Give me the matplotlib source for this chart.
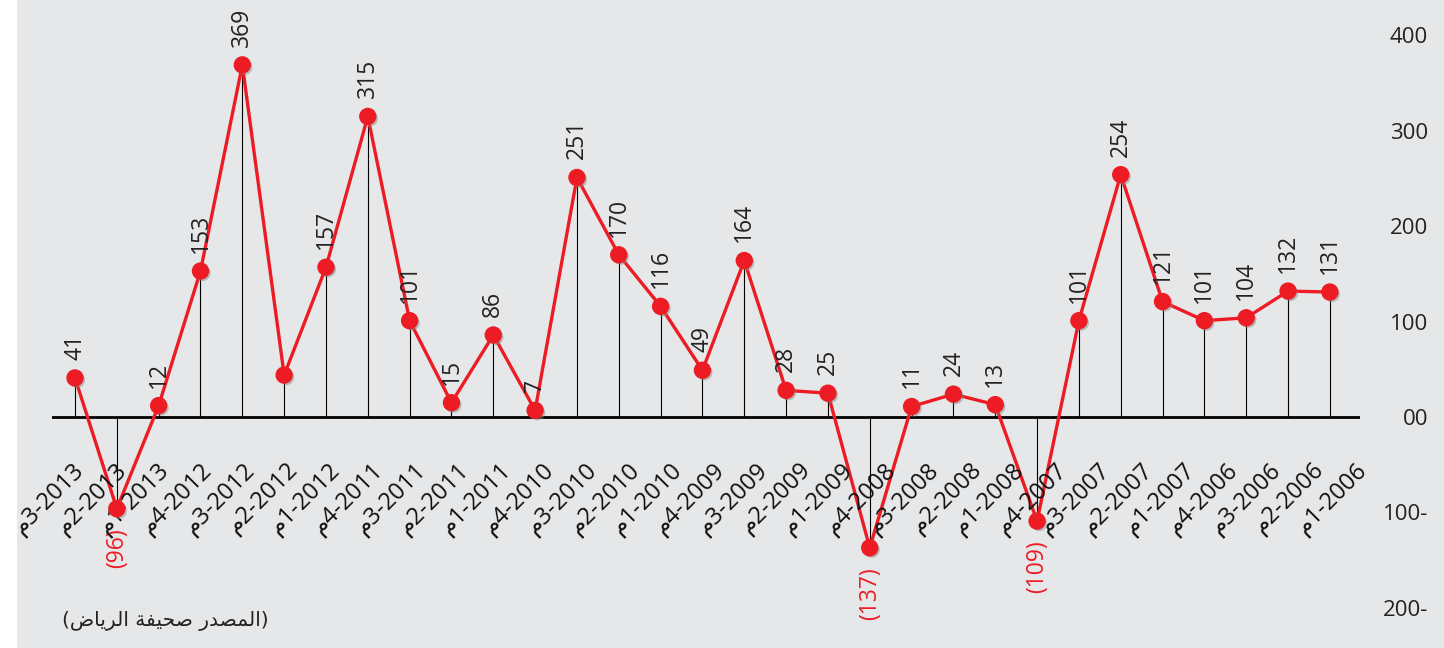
import matplotlib
matplotlib.use('Agg')
import matplotlib.pyplot as plt
import matplotlib.patheffects as pe
from matplotlib.patches import Rectangle

# quarters, newest first (chart reads right-to-left in time)
quarters = ['3-2013', '2-2013', '1-2013', '4-2012', '3-2012', '2-2012', '1-2012',
            '4-2011', '3-2011', '2-2011', '1-2011', '4-2010', '3-2010', '2-2010',
            '1-2010', '4-2009', '3-2009', '2-2009', '1-2009', '4-2008', '3-2008',
            '2-2008', '1-2008', '4-2007', '3-2007', '2-2007', '1-2007', '4-2006',
            '3-2006', '2-2006', '1-2006']
values = [41, -96, 12, 153, 369, 44, 157, 315, 101, 15, 86, 7, 251, 170, 116,
          49, 164, 28, 25, -137, 11, 24, 13, -109, 101, 254, 121, 101, 104, 132, 131]
unlabelled = ['2-2012']
yticks = [400, 300, 200, 100, 0, -100, -200]
ytick_labels = ['400', '300', '200', '100', '00', '100-', '200-']
# "(المصدر صحيفة الرياض)" in visual order with Arabic presentation forms
source_text = ('(\ufebd\ufe8e\ufef3\ufeae\ufedf\ufe8d \ufe94\ufed4\ufef4\ufea4\ufebb '
               '\ufead\ufeaa\ufebc\ufee4\ufedf\ufe8d)')

RED = '#ed1c24'
BG = '#e6e7e8'
FONT = ['Open Sans', 'DejaVu Sans']

W, H = 1444, 648
fig = plt.figure(figsize=(W / 100, H / 100), dpi=100, facecolor=BG)
fig.patches.append(Rectangle((0, 0), 17 / W, 1, transform=fig.transFigure,
                             facecolor='white', edgecolor='none', zorder=0))

ax = fig.add_axes([52 / W, 0, 1308 / W, 1])
ax.set_facecolor('none')
x = list(range(len(values)))

ax.set_xlim(-0.55, 30.72)
ax.set_ylim(-242, 437)

# stems and zero line
ax.vlines(x, 0, values, color='black', lw=0.8, zorder=1)
ax.axhline(0, color='black', lw=2.0, zorder=2)

# red line and markers with a faint drop shadow
ax.plot(x, values, color=RED, lw=2.4, zorder=3)
ax.plot(x, values, 'o', color=RED, markersize=11.5, zorder=4,
        path_effects=[pe.SimplePatchShadow(offset=(1.5, -1.5), shadow_rgbFace='#888888', alpha=0.5),
                      pe.Normal()])

# value labels
for i, (q, v) in enumerate(zip(quarters, values)):
    if q in unlabelled:
        continue
    if v >= 0:
        ax.annotate(str(v), (i, v), xytext=(0, 13), textcoords='offset points',
                    rotation=90, ha='center', va='bottom', fontsize=16.5,
                    family=FONT, color='#222222')
    else:
        ax.annotate('(%d)' % -v, (i, v), xytext=(0, -14), textcoords='offset points',
                    rotation=90, ha='center', va='top', fontsize=16.5,
                    family=FONT, color=RED)

# rotated quarter labels
for i, q in enumerate(quarters):
    ax.text(0.12 + i * 1.0223, -52, '\u0645' + q, rotation=45, ha='right', va='center',
            rotation_mode='anchor', fontsize=17, family=FONT, color='#111111')

# y axis on the right
ax.yaxis.tick_right()
ax.set_yticks(yticks)
ax.set_yticklabels(ytick_labels, family=FONT, fontsize=16, color='#222222')
ax.tick_params(axis='y', length=0, pad=49)
for lab in ax.get_yticklabels():
    lab.set_horizontalalignment('right')
ax.set_xticks([])
for s in ax.spines.values():
    s.set_visible(False)

fig.text(62 / W, 1 - 621 / H, source_text, va='center', ha='left', fontsize=14.5,
         family='DejaVu Sans', color='#222222')

fig.savefig('out.png', dpi=100, facecolor=BG)
